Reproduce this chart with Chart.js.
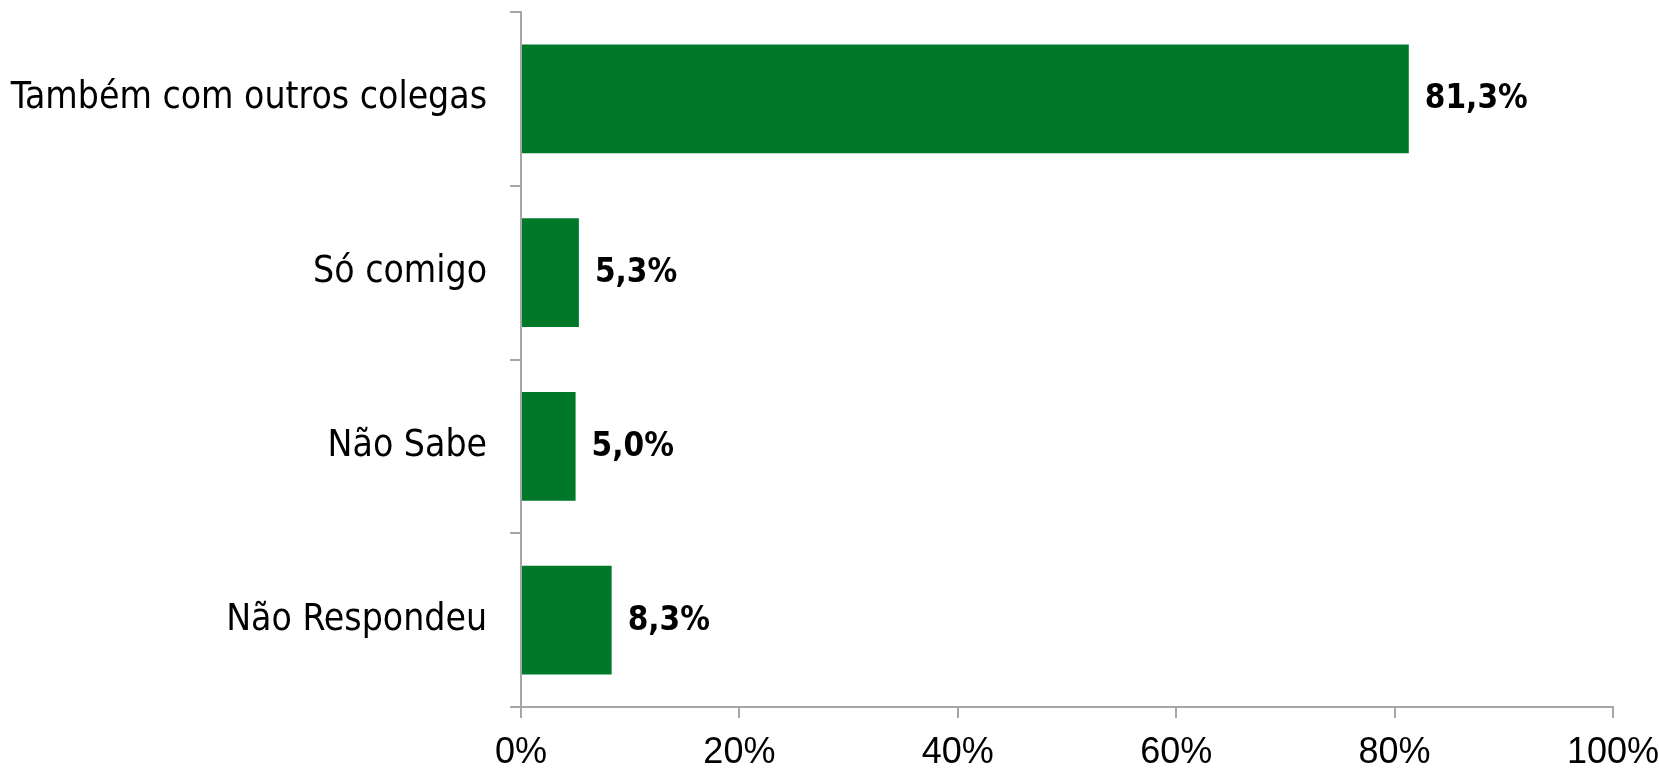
<!DOCTYPE html>
<html lang="pt">
<head>
<meta charset="utf-8">
<title>Também com outros colegas</title>
<script src="https://cdn.jsdelivr.net/npm/chart.js@4.4.0/dist/chart.umd.min.js"></script>
<style>
  html, body { margin: 0; padding: 0; background: #fff; }
  #wrap { width: 1659px; height: 768px; }
</style>
</head>
<body>
<div id="wrap"><canvas id="chart" width="1659" height="768"></canvas></div>
<script>
// Categorias e percentagens (%)
const categories = ['Também com outros colegas', 'Só comigo', 'Não Sabe', 'Não Respondeu'];
const values = [81.3, 5.3, 5.0, 8.3];
const tickValues = [0, 20, 40, 60, 80, 100];

const barColor = '#00782A';
const axisColor = '#A6A6A6';
const labelFont = '"DejaVu Sans Condensed", "DejaVu Sans", sans-serif';
const tickFont = '"Liberation Sans Narrow", "Liberation Sans", Arial, sans-serif';

// Formata 81.3 -> "81,3%"
function formatPct(v) {
    return v.toFixed(1).replace('.', ',') + '%';
}

// Escreve o valor à direita de cada barra
const valueLabels = {
    id: 'valueLabels',
    afterDatasetsDraw(chart) {
        const ctx = chart.ctx;
        const meta = chart.getDatasetMeta(0);
        ctx.save();
        ctx.font = 'bold 33px ' + labelFont;
        ctx.fillStyle = '#000';
        ctx.textAlign = 'left';
        ctx.textBaseline = 'middle';
        meta.data.forEach((bar, i) => {
            ctx.fillText(formatPct(values[i]), bar.x + 16, bar.y + 1);
        });
        ctx.restore();
    }
};

new Chart(document.getElementById('chart'), {
    type: 'bar',
    data: {
        labels: categories,
        datasets: [{
            data: values,
            backgroundColor: barColor,
            borderWidth: 0,
            categoryPercentage: 1,
            barPercentage: 0.627
        }]
    },
    options: {
        indexAxis: 'y',
        responsive: false,
        animation: false,
        layout: { padding: { top: 12, right: 46, left: 0, bottom: 0 } },
        plugins: {
            legend: { display: false },
            tooltip: { enabled: false }
        },
        scales: {
            x: {
                min: 0,
                max: 100,
                afterBuildTicks: (scale) => {
                    scale.ticks = tickValues.map(v => ({ value: v }));
                },
                afterFit: (scale) => {
                    scale.height = 61;
                    scale.paddingLeft = 0;
                    scale.paddingRight = 0;
                },
                border: { display: true, color: axisColor, width: 2 },
                grid: {
                    drawOnChartArea: false,
                    drawTicks: true,
                    tickLength: 11,
                    color: axisColor,
                    lineWidth: 2
                },
                ticks: {
                    padding: 13,
                    maxRotation: 0,
                    color: '#000',
                    font: { family: tickFont, size: 36 },
                    callback: (v) => v + '%'
                }
            },
            y: {
                afterFit: (scale) => {
                    scale.width = 521;
                    scale.paddingTop = 0;
                    scale.paddingBottom = 0;
                },
                border: { display: true, color: axisColor, width: 2 },
                grid: {
                    offset: true,
                    drawOnChartArea: false,
                    drawTicks: true,
                    tickLength: 11,
                    color: axisColor,
                    lineWidth: 2
                },
                ticks: {
                    padding: 23,
                    color: '#000',
                    font: { family: labelFont, size: 37 }
                }
            }
        }
    },
    plugins: [valueLabels]
});
</script>
</body>
</html>
